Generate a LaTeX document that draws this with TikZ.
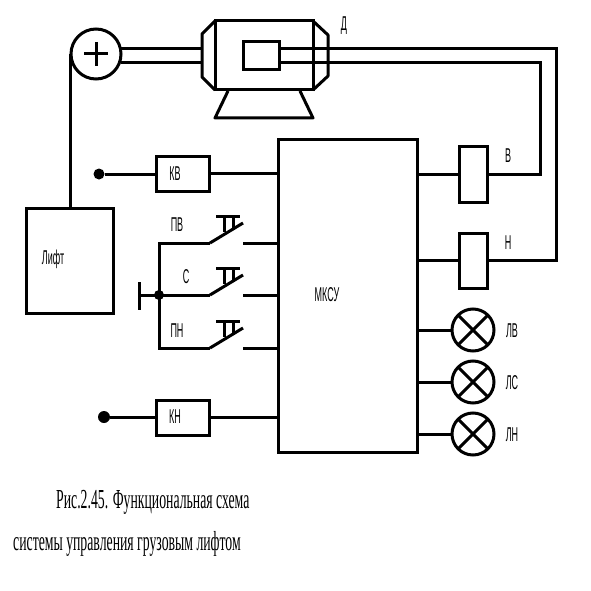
\documentclass[tikz,border=0pt]{standalone}
\usepackage{fontspec}
\setmainfont[FakeStretch=0.5]{Liberation Serif}
\newfontfamily\narrowfont[FakeStretch=0.45]{Liberation Sans}
\usetikzlibrary{positioning,calc}
\tikzset{
  wire/.style={line width=3pt},
  block/.style={rectangle,draw,line width=3pt,fill=white,inner sep=0,outer sep=0},
  lamp/.style={circle,draw,line width=3pt,fill=white,minimum size=42pt,inner sep=0,outer sep=0},
  joint/.style={circle,fill=black,minimum size=10pt,inner sep=0,outer sep=0},
  lab/.style={font=\narrowfont\fontsize{20}{22}\selectfont,inner sep=0},
  caption/.style={font=\fontsize{27.5}{30}\selectfont,inner sep=0},
}
\begin{document}
\begin{tikzpicture}[x=1pt,y=-1pt]
  \useasboundingbox (0,0) rectangle (591,591);
  % the motor and the summing circle
  \node[block,circle,minimum size=50pt] (plus) at (96,54) {};
  \draw[wire] (84,54) -- (108,54) (96,42) -- (96,66);
  \node[block,minimum width=98pt,minimum height=69pt] (body) at (264,55.5) {};
  \draw[wire,line join=round] (body.north west) -- (202,34) -- (202,77) -- (body.south west);
  \draw[wire,line join=round] (body.north east) -- (328,35) -- (328,76) -- (body.south east);
  \draw[wire,line join=round] (228,91) -- (215,118) -- (313,118) -- (300,91);
  \node[block,minimum width=36pt,minimum height=28pt] (rotor) at (261,56) {};
  \coordinate (capl1) at (202,49);
  \coordinate (capl2) at (202,63);
  \draw[wire] (plus.east |- capl1) -- (capl1) (plus.east |- capl2) -- (capl2);
  \node[lab] (dlab) at (344,26) {Д};
  % the lift
  \node[block,minimum width=87pt,minimum height=105pt] (lift) at (69.5,260.5) {};
  \node[lab] (liftlab) at (53,259) {Лифт};
  \coordinate (liftup) at (70,54);
  \draw[wire] (lift.north -| liftup) -- (liftup);
  % control unit
  \node[block,minimum width=139pt,minimum height=313pt] (mksu) at (347.5,295.5) {};
  \node[lab] (mksulab) at (327,295) {МКСУ};
  % relays, wired back to the motor
  \node[block,minimum width=28pt,minimum height=56pt] (relv) at (473,174) {};
  \node[block,minimum width=28pt,minimum height=55pt] (reln) at (473,260.5) {};
  \coordinate (outv) at (540,63);
  \coordinate (outn) at (556,49);
  \draw[wire,line join=miter] (rotor.east |- outn) -- (outn) -- (outn |- reln) -- (reln.east);
  \draw[wire,line join=miter] (rotor.east |- outv) -- (outv) -- (outv |- relv) -- (relv.east);
  \draw[wire] (mksu.east |- relv) -- (relv.west);
  \draw[wire] (mksu.east |- reln) -- (reln.west);
  \node[lab] (vlab) at (508,156) {В};
  \node[lab] (nlab) at (508,243) {Н};
  % lamps
  \foreach \name/\y/\txt in {lv/330/ЛВ,ls/382/ЛС,ln/434/ЛН} {
    \node[lamp] (\name) at (473,\y) {};
    \draw[wire] (\name.45) -- (\name.225) (\name.135) -- (\name.315);
    \draw[wire] (mksu.east |- \name) -- (\name.west);
    \node[lab] (\name lab) at (512,\y+1) {\txt};
  }
  % the two limit inputs
  \node[block,minimum width=53pt,minimum height=35pt] (kv) at (182.5,173.5) {};
  \node[block,minimum width=53pt,minimum height=35pt] (kn) at (182.5,417.5) {};
  \node[lab] (kvlab) at (175,174) {КВ};
  \node[lab] (knlab) at (175,417) {КН};
  \node[joint,minimum size=11pt] (dotv) at (99,174) {};
  \node[joint,minimum size=12pt] (dotn) at (104,417) {};
  \draw[wire] (dotv) -- (kv.west |- dotv);
  \draw[wire] (dotn) -- (kn.west |- dotn);
  \draw[wire] (kv.east) -- (mksu.west |- kv);
  \draw[wire] (kn.east) -- (mksu.west |- kn);
  % push buttons
  \foreach \name/\y in {pv/243,st/295,pn/348} {
    \coordinate (\name a) at (210,\y);
    \coordinate (\name b) at (243,\y);
    \draw[wire] (\name a) -- (243,\y-20);
    \draw[wire] (\name b) -- (mksu.west |- \name b);
    \draw[wire] (216,\y-27) -- (240,\y-27) (224,\y-27) -- (224,\y-11) (233,\y-27) -- (233,\y-15);
  }
  \node[joint] (bus) at (159,295) {};
  \coordinate (gnd) at (139,295);
  \draw[wire] (pva) -- (pva -| bus) -- (pna -| bus) -- (pna);
  \draw[wire] (gnd) -- (sta);
  \draw[wire] (139,282) -- (139,310);
  \node[lab] (pvlab) at (177,225) {ПВ};
  \node[lab] (slab) at (186,277) {С};
  \node[lab] (pnlab) at (177,331) {ПН};
  % caption
  \node[caption,anchor=west] (cap1) at (56,502) {Рис.2.45. Функциональная схема};
  \node[caption,anchor=west] (cap2) at (13,544) {системы управления грузовым лифтом};
\end{tikzpicture}
\end{document}
